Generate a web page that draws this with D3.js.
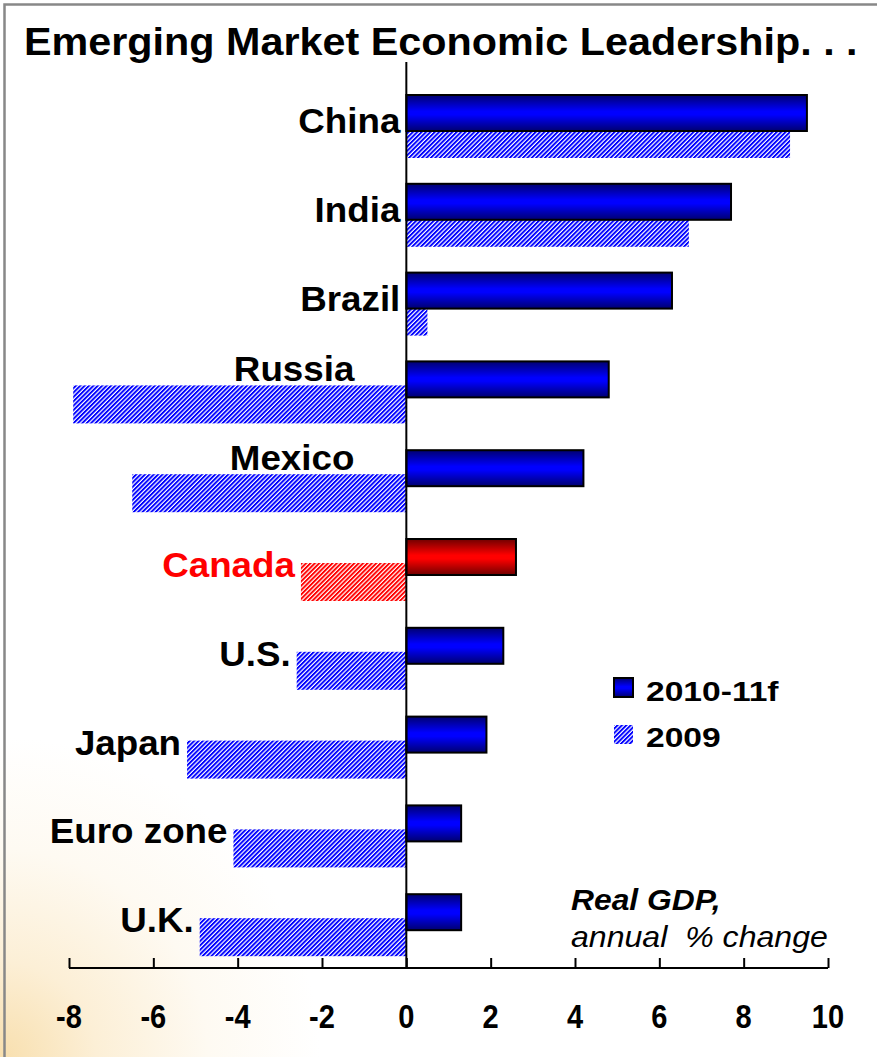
<!DOCTYPE html>
<meta charset="utf-8">
<html>
<head>
<title>Emerging Market Economic Leadership</title>
<script src="https://d3js.org/d3.v7.min.js"></script>
<style>
  body { margin: 0; background: #fff; }
  svg { display: block; font-family: "Liberation Sans", Arial, sans-serif; }
</style>
</head>
<body>
<svg width="877" height="1057"></svg>
<script>

// data
var countries = ["China", "India", "Brazil", "Russia", "Mexico", "Canada", "U.S.", "Japan", "Euro zone", "U.K."];
var gdp1011 = [9.5, 7.7, 6.3, 4.8, 4.2, 2.6, 2.3, 1.9, 1.3, 1.3];
var gdp2009 = [9.1, 6.7, 0.5, -7.9, -6.5, -2.5, -2.6, -5.2, -4.1, -4.9];
var tickValues = [-8, -6, -4, -2, 0, 2, 4, 6, 8, 10];
var seriesNames = ["2010-11f", "2009"];
var highlight = "Canada";
var labelsAbove = ["Russia", "Mexico"];

var svg = d3.select("svg"),
    width = +svg.attr("width"),
    height = +svg.attr("height");

var defs = svg.append("defs");

// warm glow in the lower left corner
var glow = defs.append("radialGradient").attr("id", "glow")
    .attr("gradientUnits", "userSpaceOnUse")
    .attr("cx", 0).attr("cy", height).attr("r", 320);
glow.append("stop").attr("offset", 0).attr("stop-color", "#f8dfae");
glow.append("stop").attr("offset", 0.3).attr("stop-color", "#fcefd6");
glow.append("stop").attr("offset", 0.65).attr("stop-color", "#fefaf2");
glow.append("stop").attr("offset", 1).attr("stop-color", "#ffffff");

function barGradient(id, dark, bright) {
  var g = defs.append("linearGradient").attr("id", id)
      .attr("x1", 0).attr("y1", 0).attr("x2", 0).attr("y2", 1);
  g.append("stop").attr("offset", 0).attr("stop-color", dark);
  g.append("stop").attr("offset", 0.45).attr("stop-color", bright);
  g.append("stop").attr("offset", 0.55).attr("stop-color", bright);
  g.append("stop").attr("offset", 1).attr("stop-color", dark);
}
barGradient("blueBar", "#000070", "#0000ff");
barGradient("redBar", "#700000", "#ff0000");

function hatch(id, color) {
  var p = defs.append("pattern").attr("id", id)
      .attr("patternUnits", "userSpaceOnUse")
      .attr("width", 3.1).attr("height", 3.1)
      .attr("patternTransform", "rotate(45)");
  p.append("rect").attr("width", 3.1).attr("height", 3.1).attr("fill", "#fff");
  p.append("rect").attr("width", 1.9).attr("height", 3.1).attr("fill", color);
}
hatch("blueHatch", "#0000ff");
hatch("redHatch", "#ff0000");

// background + frame
svg.append("rect").attr("width", width).attr("height", height).attr("fill", "url(#glow)");
svg.append("path")
    .attr("d", "M4.5," + height + "V4.5H" + width)
    .attr("fill", "none").attr("stroke", "#888").attr("stroke-width", 2.5);

// scales
var x = d3.scaleLinear().domain([-8, 10]).range([69, 828]);
var y = d3.scaleBand().domain(countries).range([95, 95 + 88.8 * countries.length]);

var solidH = 36;

function stretch(sel, sx) {
  sel.each(function() {
    var t = d3.select(this);
    var tx = +t.attr("x"), ty = +t.attr("y");
    t.attr("x", 0).attr("y", 0)
     .attr("transform", "translate(" + tx + "," + ty + ") scale(" + sx + ",1)");
  });
}

// title
svg.append("text")
    .attr("x", 24).attr("y", 55)
    .attr("font-size", 39).attr("font-weight", "bold")
    .text("Emerging Market Economic Leadership. . .")
    .call(stretch, 1.06);

var rows = countries.map(function(c, i) {
  return { name: c, v1: gdp1011[i], v0: gdp2009[i] };
});

var g = svg.append("g");

// 2009 hatched bars
g.selectAll("rect.h2009")
  .data(rows).enter().append("rect")
    .attr("class", "h2009")
    .attr("x", function(d) { return x(Math.min(0, d.v0)); })
    .attr("width", function(d) { return Math.abs(x(d.v0) - x(0)); })
    .attr("y", function(d) { return d.v0 >= 0 ? y(d.name) + solidH : y(d.name) + 24; })
    .attr("height", function(d) { return d.v0 >= 0 ? 27 : 38; })
    .attr("fill", function(d) { return d.name === highlight ? "url(#redHatch)" : "url(#blueHatch)"; });

// 2010-11 forecast bars
g.selectAll("rect.h1011")
  .data(rows).enter().append("rect")
    .attr("class", "h1011")
    .attr("x", x(0))
    .attr("width", function(d) { return x(d.v1) - x(0); })
    .attr("y", function(d) { return y(d.name); })
    .attr("height", solidH)
    .attr("fill", function(d) { return d.name === highlight ? "url(#redBar)" : "url(#blueBar)"; })
    .attr("stroke", "#000").attr("stroke-width", 2);

// zero line
svg.append("line")
    .attr("x1", x(0)).attr("x2", x(0))
    .attr("y1", 62).attr("y2", 968)
    .attr("stroke", "#000").attr("stroke-width", 2);

// country labels
svg.selectAll("text.country")
  .data(rows).enter().append("text")
    .attr("class", "country")
    .attr("text-anchor", "end")
    .attr("font-size", 35).attr("font-weight", "bold")
    .attr("fill", function(d) { return d.name === highlight ? "#ff0000" : "#000"; })
    .attr("x", function(d) {
      if (labelsAbove.indexOf(d.name) >= 0) return x(0) - 52;
      return Math.min(x(0), x(d.v0)) - 6;
    })
    .attr("y", function(d) {
      if (labelsAbove.indexOf(d.name) >= 0) return y(d.name) + 20;
      return y(d.name) + 38;
    })
    .text(function(d) { return d.name; })
    .call(stretch, 1.05);

// bottom axis, ticks pointing up
var axis = svg.append("g")
    .attr("transform", "translate(0,968)")
    .call(d3.axisTop(x).tickValues(tickValues).tickSize(10).tickFormat(""));
axis.select(".domain").attr("stroke", "#000").attr("stroke-width", 2)
    .attr("d", "M" + x(-8) + ",0H" + x(10));
axis.selectAll(".tick line").attr("stroke", "#000").attr("stroke-width", 2);

svg.selectAll("text.tick")
  .data(tickValues).enter().append("text")
    .attr("class", "tick")
    .attr("text-anchor", "middle")
    .attr("font-size", 33).attr("font-weight", "bold")
    .attr("x", function(d) { return x(d); })
    .attr("y", 1028)
    .text(function(d) { return d; })
    .call(stretch, 0.88);

// legend
var legend = svg.append("g");
legend.append("rect")
    .attr("x", 614).attr("y", 678).attr("width", 19).attr("height", 19)
    .attr("fill", "url(#blueBar)").attr("stroke", "#000").attr("stroke-width", 2);
legend.append("rect")
    .attr("x", 614).attr("y", 725).attr("width", 19).attr("height", 19)
    .attr("fill", "url(#blueHatch)");
legend.selectAll("text")
  .data(seriesNames).enter().append("text")
    .attr("x", 646)
    .attr("y", function(d, i) { return 701 + i * 46; })
    .attr("font-size", 28).attr("font-weight", "bold")
    .text(function(d) { return d; })
    .call(stretch, 1.2);

// units note
svg.append("text")
    .attr("x", 571).attr("y", 910)
    .attr("font-size", 30).attr("font-weight", "bold").attr("font-style", "italic")
    .text("Real GDP,")
    .call(stretch, 1.06);
svg.append("text")
    .attr("x", 571).attr("y", 947)
    .attr("font-size", 30).attr("font-style", "italic")
    .attr("xml:space", "preserve")
    .style("white-space", "pre")
    .text("annual  % change")
    .call(stretch, 1.07);

</script>
</body>
</html>
